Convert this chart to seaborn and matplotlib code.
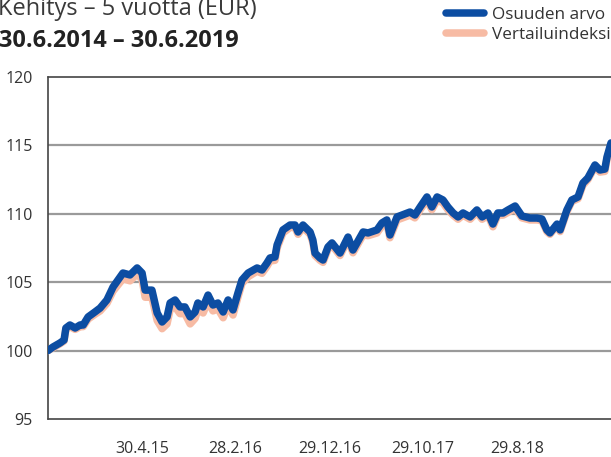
import pandas as pd
import matplotlib.pyplot as plt
import seaborn as sns

# Päivämäärät (luettu kuvasta)
dates = [
    "2014-06-30", "2014-07-16", "2014-08-08", "2014-08-21", "2014-08-27", "2014-09-09",
    "2014-09-26", "2014-10-12", "2014-10-22", "2014-11-07", "2014-11-29", "2014-12-16",
    "2015-01-07", "2015-01-27", "2015-02-12", "2015-02-28", "2015-03-23", "2015-04-15",
    "2015-05-01", "2015-05-11", "2015-06-02", "2015-06-19", "2015-07-05", "2015-07-21",
    "2015-07-31", "2015-08-16", "2015-09-01", "2015-09-17", "2015-10-04", "2015-10-20",
    "2015-10-29", "2015-11-15", "2015-12-01", "2015-12-17", "2016-01-02", "2016-01-19",
    "2016-02-04", "2016-02-20", "2016-03-07", "2016-03-20", "2016-04-09", "2016-05-08",
    "2016-05-24", "2016-06-09", "2016-06-19", "2016-07-05", "2016-07-12", "2016-07-31",
    "2016-08-23", "2016-09-08", "2016-09-18", "2016-10-04", "2016-10-27", "2016-11-05",
    "2016-11-12", "2016-11-28", "2016-12-08", "2016-12-24", "2017-01-06", "2017-02-01",
    "2017-02-27", "2017-03-15", "2017-04-17", "2017-05-03", "2017-06-01", "2017-06-17",
    "2017-07-03", "2017-07-13", "2017-08-05", "2017-09-16", "2017-10-02", "2017-10-19",
    "2017-11-10", "2017-11-26", "2017-12-13", "2018-01-01", "2018-01-17", "2018-02-03",
    "2018-02-19", "2018-03-07", "2018-03-30", "2018-04-21", "2018-05-08", "2018-05-27",
    "2018-06-12", "2018-06-28", "2018-07-15", "2018-07-31", "2018-08-23", "2018-09-14",
    "2018-10-10", "2018-11-02", "2018-11-18", "2018-12-04", "2018-12-14", "2019-01-06",
    "2019-01-16", "2019-02-07", "2019-02-23", "2019-03-15", "2019-03-31", "2019-04-16",
    "2019-05-09", "2019-05-25", "2019-06-10", "2019-06-17", "2019-06-30",
]

# Osuuden arvo
osuus = [
    100.0, 100.26, 100.56, 100.77, 101.65, 101.87,
    101.65, 101.87, 101.87, 102.46, 102.82, 103.11,
    103.70, 104.65, 105.16, 105.67, 105.53, 106.04,
    105.67, 104.42, 104.42, 102.75, 102.09, 102.46,
    103.48, 103.70, 103.19, 103.19, 102.46, 102.82,
    103.48, 103.19, 104.06, 103.33, 103.48, 102.82,
    103.70, 102.97, 104.21, 105.16, 105.67, 106.04,
    105.89, 106.40, 106.77, 106.84, 107.72, 108.82,
    109.18, 109.18, 108.67, 109.18, 108.67, 108.08,
    107.13, 106.77, 106.62, 107.57, 107.87, 107.13,
    108.30, 107.35, 108.67, 108.60, 108.82, 109.33,
    109.55, 108.45, 109.77, 110.13, 109.91, 110.50,
    111.23, 110.50, 111.23, 111.01, 110.50, 110.06,
    109.77, 110.06, 109.77, 110.28, 109.77, 110.06,
    109.25, 110.06, 110.06, 110.28, 110.57, 109.84,
    109.69, 109.69, 109.62, 108.82, 108.60, 109.25,
    108.82, 110.28, 111.01, 111.23, 112.25, 112.62,
    113.57, 113.20, 113.27, 114.15, 115.18,
]

# Vertailuindeksi
vertailu = [
    100.0, 100.2, 100.5, 100.7, 101.55, 101.75,
    101.55, 101.75, 101.75, 102.3, 102.65, 102.9,
    103.45, 104.35, 104.8, 105.25, 105.1, 105.6,
    105.2, 103.9, 103.9, 102.2, 101.6, 101.95,
    103.0, 103.2, 102.7, 102.7, 101.95, 102.35,
    103.0, 102.75, 103.6, 102.9, 103.05, 102.4,
    103.3, 102.6, 103.9, 104.9, 105.4, 105.8,
    105.65, 106.15, 106.55, 106.6, 107.5, 108.6,
    109.0, 109.0, 108.5, 109.0, 108.5, 107.9,
    106.95, 106.6, 106.45, 107.4, 107.7, 106.95,
    108.1, 107.15, 108.45, 108.4, 108.6, 109.1,
    109.3, 108.25, 109.55, 109.9, 109.7, 110.3,
    111.0, 110.3, 111.0, 110.8, 110.3, 109.9,
    109.6, 109.9, 109.6, 110.1, 109.6, 109.9,
    109.05, 109.9, 109.9, 110.1, 110.4, 109.7,
    109.55, 109.55, 109.5, 108.7, 108.5, 109.15,
    108.7, 110.15, 110.9, 111.1, 112.1, 112.5,
    113.45, 113.05, 113.1, 114.0, 115.0,
]

tick_dates = ["2015-04-30", "2016-02-28", "2016-12-29", "2017-10-29", "2018-08-29"]
tick_labels = ["30.4.15", "28.2.16", "29.12.16", "29.10.17", "29.8.18"]
y_ticks = [95, 100, 105, 110, 115, 120]

df = pd.DataFrame({
    "pvm": pd.to_datetime(dates),
    "Osuuden arvo": osuus,
    "Vertailuindeksi": vertailu,
})

sns.set_style("white")
plt.rcParams["font.family"] = ["Open Sans", "DejaVu Sans"]

fig = plt.figure(figsize=(6.11, 4.57), dpi=100)
ax = fig.add_axes([0.0786, 0.0832, 0.9214, 0.7483])

sns.lineplot(data=df, x="pvm", y="Vertailuindeksi", ax=ax, color="#f7bba4",
             linewidth=5.4, solid_capstyle="round", label="Vertailuindeksi", zorder=3)
sns.lineplot(data=df, x="pvm", y="Osuuden arvo", ax=ax, color="#0c4da2",
             linewidth=5.4, solid_capstyle="round", label="Osuuden arvo", zorder=4)

ax.set_xlim(pd.Timestamp("2014-06-30"), pd.Timestamp("2019-06-30"))
ax.set_ylim(95, 120)
ax.set_yticks(y_ticks)
ax.set_xticks(pd.to_datetime(tick_dates))
ax.set_xticklabels(tick_labels)
ax.set_xlabel("")
ax.set_ylabel("")

for v in [100, 105, 110, 115]:
    ax.axhline(v, color="#9a9a9a", linewidth=1.6, zorder=1)

for side in ["right", "top", "bottom"]:
    ax.spines[side].set_visible(False)
ax.spines["left"].set_color("#444444")
ax.spines["left"].set_linewidth(1.2)
ax.axhline(120, color="#444444", linewidth=1.2, zorder=1, clip_on=False)
ax.axhline(95, color="#444444", linewidth=1.2, zorder=1, clip_on=False)

ax.tick_params(axis="both", length=0, labelsize=11.5, colors="#333333")
ax.tick_params(axis="y", pad=11)
ax.tick_params(axis="x", pad=15.5)

fig.text(-0.003, 1 - 15 / 457, "Kehitys \u2013 5 vuotta (EUR)", fontsize=17,
         color="#3a3a3a", va="baseline", ha="left")
fig.text(-0.002, 1 - 47 / 457, "30.6.2014 \u2013 30.6.2019", fontsize=16.9,
         fontweight="bold", color="#222222", va="baseline", ha="left")

handles, labels = ax.get_legend_handles_labels()
ax.legend(handles[::-1], labels[::-1], loc="upper right",
          bbox_to_anchor=(1.0, 1 - 7 / 457), bbox_transform=fig.transFigure,
          frameon=False, fontsize=12.3, handlelength=2.2, handletextpad=0.5,
          labelspacing=0.25, borderaxespad=0, borderpad=0, labelcolor="#333333")

fig.savefig("out.png", dpi=100)
